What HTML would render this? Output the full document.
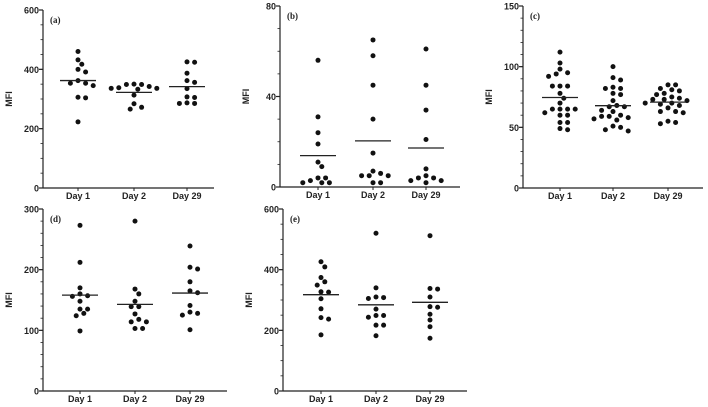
<!DOCTYPE html>
<html><head><meta charset="utf-8">
<style>
html,body{margin:0;padding:0;background:#fff;}
svg{display:block;font-family:"Liberation Sans",Arial,sans-serif;}
</style></head>
<body>
<svg id="chart" width="708" height="407" viewBox="0 0 708 407"></svg>
<script>
const categories = ["Day 1","Day 2","Day 29"];

const aDay1 = [460,432,417,391,400,353,362,353,345,306,304,223];
const aDay2 = [349,349,350,336,336,333,338,342,313,284,272,266];
const aDay29 = [424,425,387,356,362,335,307,305,285,287,285];
const aTicks = [0,200,400,600];

const bDay1 = [56,31,24,19,11,9,4,2.8,4,1.9,1.9,1.9];
const bDay2 = [65,58,45,30,15,7,5,6,5,5,1.9,1.9];
const bDay29 = [61,45,34,21,8,4,4,1.9,2.8,5,2.8];
const bTicks = [0,40,80];

const cDay1 = [112,103,98,94,95,92,84,84,84,78,74,70,65,65,65,65,62,60,60,54,54,49,48];
const cDay2 = [100,91,89,83,82,82,78,77,72,68,67,67,64,63,60,59,59,58,57,56,51,50,48,47];
const cDay29 = [85,85,82,81,80,78,77,75,74,73,73,72,70,70,69,68,66,63,63,62,55,54,53];
const cTicks = [0,50,100,150];

const dDay1 = [273,212,170,160,156,157,148,135,135,124,128,99];
const dDay2 = [280,168,160,148,139,139,127,118,114,114,103,103];
const dDay29 = [239,201,204,180,162,165,141,130,125,128,101];
const dTicks = [0,100,200,300];

const eDay1 = [426,409,374,349,360,327,326,304,271,242,237,185];
const eDay2 = [520,340,305,308,310,270,249,249,243,217,217,182];
const eDay29 = [512,336,338,310,276,278,253,234,212,174];
const eTicks = [0,200,400,600];

const svg = document.getElementById('chart');
const NS = 'http://www.w3.org/2000/svg';
function mk(tag, attrs, parent){
  const el = document.createElementNS(NS, tag);
  for (const k in attrs) el.setAttribute(k, attrs[k]);
  (parent||svg).appendChild(el);
  return el;
}

function panel(id, letter, series, ticks, minorStep, geo){
  const g = mk('g', {});
  
  
  const yMax = ticks[ticks.length-1];
  const y = v => geo.y0 - (v / yMax) * (geo.y0 - geo.yTop);
  const x = i => geo.cx[i];
  const ya = mk('line', {x1:geo.ax, y1:geo.yTop, x2:geo.ax, y2:geo.y0, stroke:'#222', 'stroke-width':1.2}, g);
  
  
  for (let v = 0; v <= yMax + 1e-9; v += minorStep){
    mk('line', {x1:geo.ax-2.5, y1:y(v), x2:geo.ax, y2:y(v), stroke:'#222', 'stroke-width':0.8}, g);
  }
  ticks.forEach(t => {
    mk('line', {x1:geo.ax-4, y1:y(t), x2:geo.ax, y2:y(t), stroke:'#222', 'stroke-width':1.2}, g);
    const tl = mk('text', {x:geo.ax-4, y:y(t)+3.5, 'text-anchor':'end', 'font-size':9, 'font-weight':'bold', fill:'#222'}, g);
    tl.textContent = t;
    
    
  });
  const xa = mk('line', {x1:geo.ax, y1:geo.y0, x2:geo.xEnd, y2:geo.y0, stroke:'#222', 'stroke-width':1.2}, g);
  
  
  categories.forEach((c,i) => {
    mk('line', {x1:x(i), y1:geo.y0, x2:x(i), y2:geo.y0+3, stroke:'#222', 'stroke-width':1}, g);
    const xl = mk('text', {x:x(i), y:geo.y0+11, 'text-anchor':'middle', 'font-size':9, 'font-weight':'bold', fill:'#222'}, g);
    xl.textContent = c;
    
    
  });
  const ym = (geo.y0 + geo.yTop) / 2;
  const tx = geo.ax - 31;
  const yt = mk('text', {x:tx, y:ym, 'text-anchor':'middle', 'font-size':9, 'font-weight':'bold', fill:'#222', transform:'rotate(-90 '+tx+' '+ym+')'}, g);
  yt.textContent = 'MFI';
  
  
  const pl = mk('text', {x:geo.ax+7, y:geo.yTop+13, 'font-size':9, 'font-weight':'bold', 'font-family':'"Liberation Serif",serif', fill:'#222'}, g);
  pl.textContent = '(' + letter + ')';
  
  
  series.forEach((vals, i) => {
    const placed = [];
    const order = vals.map((v,k)=>k).sort((p,q)=>vals[q]-vals[p]);
    order.forEach(k => {
      const py = y(vals[k]);
      let off = 0;
      const cands = [0];
      for (let s=1; s<12; s++){ cands.push(s*3.8, -s*3.8); }
      for (const c of cands){
        if (placed.every(p => Math.hypot(p[0]-c, p[1]-py) >= 5.6)) { off = c; break; }
      }
      placed.push([off, py]);
      const dot = mk('circle', {cx:x(i)+off, cy:py, r:2.5, fill:'#111'}, g);
      
      
    });
    const mean = vals.reduce((a,b)=>a+b,0)/vals.length;
    const ml = mk('line', {x1:x(i)-18, y1:y(mean), x2:x(i)+18, y2:y(mean), stroke:'#222', 'stroke-width':1.3}, g);
    
    
  });
}

panel('a','a',[aDay1,aDay2,aDay29],aTicks,50,{ax:43,yTop:10,y0:188,xEnd:214,cx:[78,134,187]});
panel('b','b',[bDay1,bDay2,bDay29],bTicks,10,{ax:280,yTop:6,y0:187,xEnd:460,cx:[318,373,426]});
panel('c','c',[cDay1,cDay2,cDay29],cTicks,10,{ax:523,yTop:6,y0:188,xEnd:703,cx:[560,613,668]});
panel('d','d',[dDay1,dDay2,dDay29],dTicks,20,{ax:43,yTop:209,y0:391,xEnd:227,cx:[80,135,190]});
panel('e','e',[eDay1,eDay2,eDay29],eTicks,50,{ax:283,yTop:209,y0:391,xEnd:467,cx:[321,376,430]});
</script>
</body></html>
